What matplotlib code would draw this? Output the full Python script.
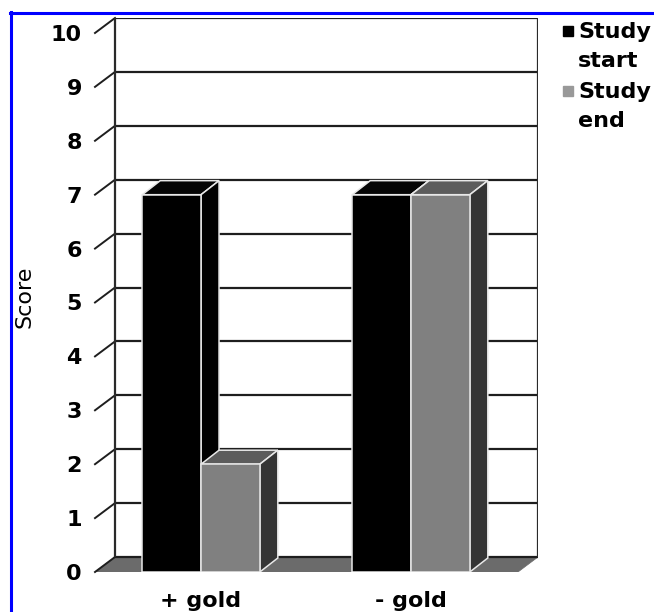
import matplotlib
matplotlib.use("Agg")
import matplotlib.pyplot as plt
from matplotlib.patches import Polygon
from matplotlib.lines import Line2D
import numpy as np

# Data
categories = ["+ gold", "- gold"]
series_names = ["Study\nstart", "Study\nend"]
study_start = [7, 7]
study_end = [2, 7]
y_ticks = list(range(0, 11))

# Styles
front_colors = ["#000000", "#808080"]
top_colors = ["#050505", "#5c5c5c"]
side_colors = ["#000000", "#353535"]
legend_colors = ["#000000", "#999999"]

W, H = 654, 612
fig = plt.figure(figsize=(W / 100, H / 100), dpi=100)
fig.patch.set_facecolor("white")

# front-plane geometry in category / score units
x_left, x_right = -0.505, 1.5095
wall_dx, wall_dy = 0.0952, 0.278    # depth of floor / back wall
bar_dx, bar_dy = 0.0857, 0.26       # depth of each column
bar_w = 0.28
y_max = 10

ax = fig.add_axes([95 / W, 40 / H, 443 / W, 554 / H])
ax.set_xlim(x_left, x_right + wall_dx)
ax.set_ylim(0, y_max + wall_dy)
for s in ax.spines.values():
    s.set_visible(False)
ax.set_facecolor("none")

# floor
floor = Polygon([(x_left, 0), (x_right, 0), (x_right + wall_dx, wall_dy),
                 (x_left + wall_dx, wall_dy)], closed=True,
                facecolor="#6b6b6b", edgecolor="#6b6b6b", lw=0.5, zorder=1)
ax.add_patch(floor)

# back-wall gridlines and diagonal tick marks
for v in y_ticks:
    ax.plot([x_left + wall_dx, x_right + wall_dx], [v + wall_dy, v + wall_dy],
            color="#1e1e1e", lw=1.6, zorder=2, solid_capstyle="butt")
    ax.plot([x_left, x_left + wall_dx], [v, v + wall_dy], color="#1e1e1e",
            lw=1.4, zorder=2, clip_on=False)
for xe in (x_left + wall_dx, x_right + wall_dx):
    ax.plot([xe, xe], [wall_dy, y_max + wall_dy], color="#2a2a2a", lw=1.6,
            zorder=2, solid_capstyle="butt")

# 3D columns
x = np.arange(len(categories))
series = [study_start, study_end]
z = 3
for gi in range(len(categories)):
    for si, vals in enumerate(series):
        v = vals[gi]
        x0 = x[gi] - bar_w + si * bar_w
        x1 = x0 + bar_w
        top = Polygon([(x0, v), (x1, v), (x1 + bar_dx, v + bar_dy),
                       (x0 + bar_dx, v + bar_dy)], closed=True,
                      facecolor=top_colors[si], edgecolor="#e8e8e8", lw=1.1,
                      zorder=z)
        side = Polygon([(x1, 0), (x1 + bar_dx, bar_dy), (x1 + bar_dx, v + bar_dy),
                        (x1, v)], closed=True, facecolor=side_colors[si],
                       edgecolor="#e8e8e8", lw=1.1, zorder=z)
        ax.add_patch(top)
        ax.add_patch(side)
        ax.bar(x0, v, width=bar_w, align="edge", color=front_colors[si],
               edgecolor="#e8e8e8", linewidth=1.1, zorder=z + 1)
        z += 2

# axis labels
ax.set_yticks(y_ticks)
ax.set_yticklabels([str(t) for t in y_ticks], fontsize=16, fontweight="bold")
ax.set_xticks(x)
ax.set_xticklabels(categories, fontsize=16, fontweight="bold")
ax.tick_params(axis="y", length=0, pad=9.5)
ax.tick_params(axis="x", length=0, pad=14)
ax.set_ylabel("Score", fontsize=16)
ax.yaxis.set_label_coords(25 / W, 1 - 297 / H, transform=fig.transFigure)
ax.yaxis.label.set_verticalalignment("center")

# legend
leg_rows = [(38, 0, "Study"), (67, None, "start"), (98, 1, "Study"), (127, None, "end")]
for base, ci, txt in leg_rows:
    fig.text(578 / W, 1 - base / H, txt, fontsize=16, fontweight="bold",
             ha="left", va="baseline")
    if ci is not None:
        fig.add_artist(Line2D([568 / W], [1 - (base - 7) / H], marker="s",
                              markersize=7.2, color=legend_colors[ci],
                              linestyle="none", transform=fig.transFigure))

# blue frame
fig.add_artist(Line2D([10.7 / W, 10.7 / W], [0, 1 - 11.5 / H], color="#0000ff",
                      lw=2.2, transform=fig.transFigure))
fig.add_artist(Line2D([9.6 / W, 1], [1 - 13 / H, 1 - 13 / H], color="#0000ff",
                      lw=2.2, transform=fig.transFigure))

fig.savefig("out.png", dpi=100, facecolor="white")
